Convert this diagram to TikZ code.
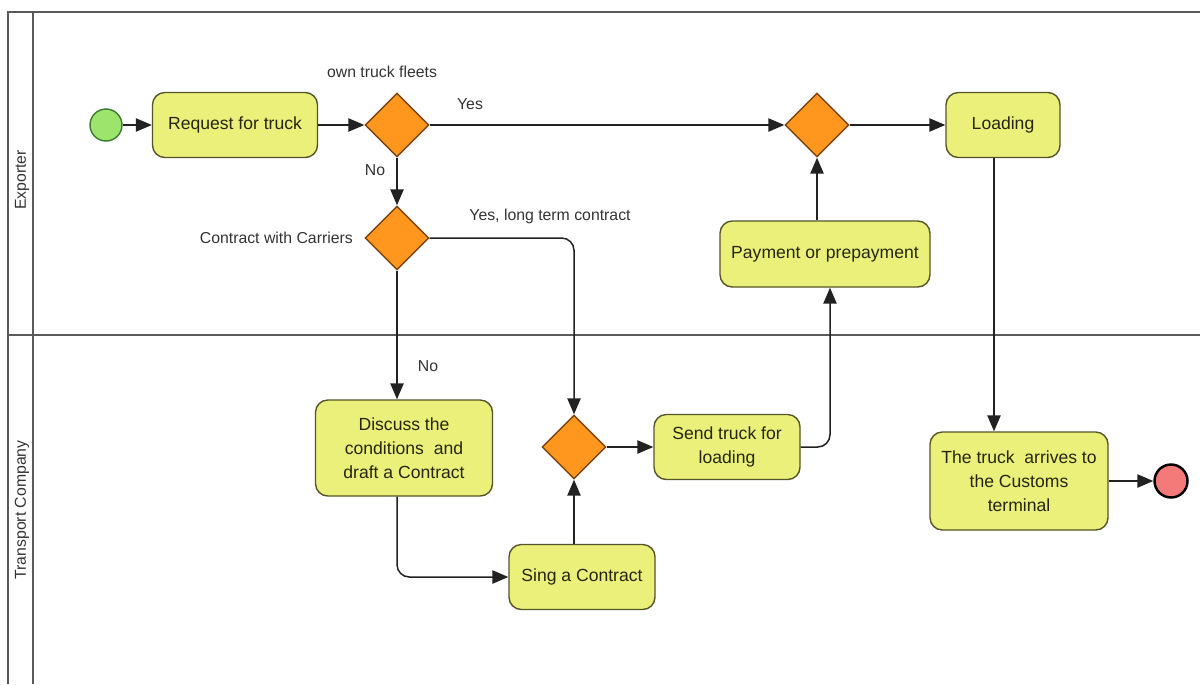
\documentclass[tikz,border=0pt]{standalone}
\usepackage{fontspec}
\setmainfont{Liberation Sans}
\usetikzlibrary{shapes.geometric,arrows.meta}

\begin{document}
\begin{tikzpicture}[
  task/.style={draw=taskLine, fill=taskFill, rounded corners=7pt, line width=0.8pt,
    align=center, text=taskText, font=\fontsize{10}{13.6}\selectfont, inner sep=2pt},
  gate/.style={diamond, draw=gateLine, fill=gateFill, line width=0.8pt,
    minimum width=1.28cm, minimum height=1.28cm, inner sep=0pt},
  flow/.style={draw=flowGray, line width=0.85pt, -{Triangle[length=9pt,width=7.5pt]}},
  lbl/.style={font=\fontsize{9}{11}\selectfont, text=lblGray},
  lanelbl/.style={font=\fontsize{9}{11}\selectfont, text=lblGray, rotate=90}
]

% Colori
\definecolor{taskFill}{HTML}{EBF07A}
\definecolor{taskLine}{HTML}{55552A}
\definecolor{taskText}{HTML}{262610}
\definecolor{gateFill}{HTML}{FF961E}
\definecolor{gateLine}{HTML}{7A4510}
\definecolor{startFill}{HTML}{9CE46C}
\definecolor{startLine}{HTML}{3C7A2C}
\definecolor{endFill}{HTML}{F47A7A}
\definecolor{flowGray}{HTML}{222222}
\definecolor{lblGray}{HTML}{333333}
\definecolor{poolGray}{HTML}{5A5A5A}

\useasboundingbox (0,0) rectangle (24,-13.68);

% Pool e corsie
\draw[poolGray, line width=1pt] (24,-0.24) -- (0.16,-0.24) -- (0.16,-13.68);
\draw[poolGray, line width=0.8pt] (0.66,-0.24) -- (0.66,-13.68);
\draw[poolGray, line width=0.8pt] (0.16,-6.7) -- (24,-6.7);
\node[lanelbl] (exporter) at (0.44,-3.6) {Exporter};
\node[lanelbl] (transport) at (0.44,-10.2) {Transport Company};

% Eventi
\node[circle, draw=startLine, fill=startFill, line width=0.8pt, minimum size=0.64cm] (start) at (2.12,-2.5) {};
\node[circle, draw=black, fill=endFill, line width=1.4pt, minimum size=0.66cm] (finish) at (23.42,-9.62) {};

% Attivita
\node[task, minimum width=3.3cm, minimum height=1.3cm] (request) at (4.7,-2.5) {Request for truck};
\node[task, minimum width=2.28cm, minimum height=1.3cm] (loading) at (20.06,-2.5) {Loading};
\node[task, minimum width=4.2cm, minimum height=1.32cm] (payment) at (16.5,-5.08) {Payment or prepayment};
\node[task, minimum width=3.54cm, minimum height=1.92cm] (discuss) at (8.08,-8.96) {Discuss the\\conditions \ and\\draft a Contract};
\node[task, minimum width=2.92cm, minimum height=1.3cm] (send) at (14.54,-8.94) {Send truck for\\loading};
\node[task, minimum width=2.92cm, minimum height=1.3cm] (sing) at (11.64,-11.54) {Sing a Contract};
\node[task, minimum width=3.56cm, minimum height=1.96cm] (arrives) at (20.38,-9.62) {The truck \ arrives to\\the Customs\\terminal};

% Gateway
\node[gate] (fleet) at (7.94,-2.5) {};
\node[gate] (carriers) at (7.94,-4.76) {};
\node[gate] (merge) at (11.48,-8.94) {};
\node[gate] (join) at (16.34,-2.5) {};

% Etichette
\node[lbl] (fleetlbl) at (7.64,-1.44) {own truck fleets};
\node[lbl, anchor=east] (carrierslbl) at (7.18,-4.76) {Contract with Carriers};
\node[lbl] (yes1) at (9.4,-2.08) {Yes};
\node[lbl] (no1) at (7.5,-3.4) {No};
\node[lbl] (yes2) at (11.0,-4.32) {Yes, long term contract};
\node[lbl] (no2) at (8.56,-7.32) {No};

% Flussi
\draw[flow] (start) -- (request);
\draw[flow] (request) -- (fleet);
\draw[flow] (fleet.east) -- (join.west);
\draw[flow] (fleet.south) -- (carriers.north);
\draw[flow, rounded corners=7pt] (carriers.east) -| (merge.north);
\draw[flow] (carriers.south) -- (carriers.south |- discuss.north);
\draw[flow, rounded corners=7pt] (carriers.south |- discuss.south) |- (sing.west);
\draw[flow] (merge.south |- sing.north) -- (merge.south);
\draw[flow] (merge.east) -- (send.west);
\draw[flow, rounded corners=7pt] (send.east) -| ([xshift=0.1cm]payment.south);
\draw[flow] (join.south |- payment.north) -- (join.south);
\draw[flow] (join.east) -- (loading.west);
\draw[flow] ([xshift=-0.18cm]loading.south) -- ([xshift=-0.18cm]loading.south |- arrives.north);
\draw[flow] (arrives.east) -- (finish.west);
\end{tikzpicture}
\end{document}
